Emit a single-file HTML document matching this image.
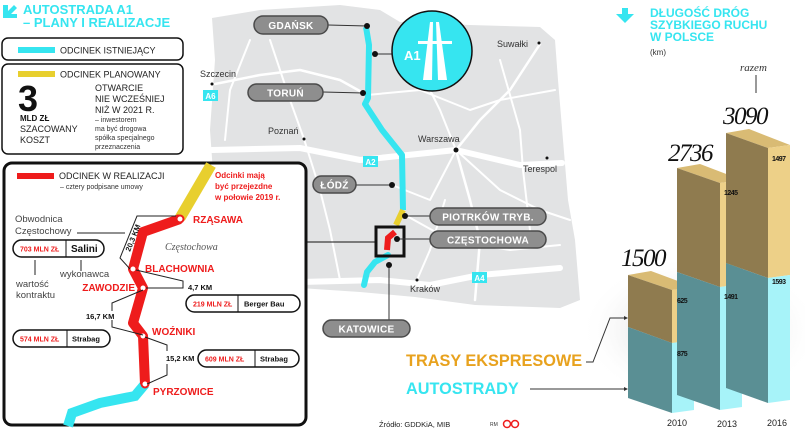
<!DOCTYPE html>
<html><head><meta charset="utf-8"><style>
html,body{margin:0;padding:0;background:#fff;}
svg{display:block;font-family:"Liberation Sans","DejaVu Sans",sans-serif;}
.pl{fill:#8e8e8e;stroke:#4a4a4a;stroke-width:1.5}
.pt{fill:#fff;font-weight:bold;font-size:10px;letter-spacing:0.3px}
.rd{fill:none;stroke:#fff;stroke-linecap:round;stroke-linejoin:round}
.cb{fill:#fff;stroke:#111;stroke-width:1.5}
.red{fill:#ee1c1c;font-weight:bold}
</style></head><body>
<svg width="805" height="442" viewBox="0 0 805 442" xmlns="http://www.w3.org/2000/svg">
<defs>
<radialGradient id="sh" cx="0.5" cy="0.5" r="0.5">
<stop offset="0" stop-color="#b8b8b8"/><stop offset="1" stop-color="#fff" stop-opacity="0"/>
</radialGradient>
</defs>
<!-- map -->
<polygon points="212,18 260,10 340,5 380,10 400,22 470,25 540,27 555,40 558,80 563,140 568,200 575,240 580,300 560,308 475,305 415,297 360,292 300,288 290,250 215,200 210,130 215,60" fill="#e2e3e4"/>
<g class="rd">
<path d="M212,150 L300,148 L360,160 L456,150 L520,165 L562,163" stroke-width="6"/>
<path d="M300,282 L380,280 L430,285 L480,275 L560,268" stroke-width="6"/>
<path d="M215,84 L260,75 L300,70 L340,80 L367,95" stroke-width="2.5"/>
<path d="M456,150 L480,120 L510,90 L540,44" stroke-width="2.5"/>
<path d="M456,150 L440,110 L420,70" stroke-width="2"/>
<path d="M456,150 L470,200 L480,240 L475,300" stroke-width="2.5"/>
<path d="M456,150 L500,190 L540,210 L570,220" stroke-width="2"/>
<path d="M304,139 L290,100 L270,40" stroke-width="2"/>
<path d="M304,139 L320,190 L330,230 L340,280" stroke-width="2"/>
<path d="M367,95 L420,90 L470,110 L500,100 L555,90" stroke-width="2"/>
<path d="M392,185 L430,200 L456,150" stroke-width="2"/>
<path d="M250,40 L230,90 L225,140" stroke-width="2"/>
<path d="M500,60 L520,130 L523,170 L530,230" stroke-width="2"/>
<path d="M405,215 L450,240 L510,250 L560,245" stroke-width="2"/>
<path d="M417,280 L430,250 L445,200" stroke-width="2"/>
</g>
<!-- badges -->
<rect x="203" y="90" width="15" height="11" fill="#36e5f0"/><text x="210.5" y="99" font-size="8" font-weight="bold" fill="#fff" text-anchor="middle">A6</text>
<rect x="363" y="156" width="15" height="11" fill="#36e5f0"/><text x="370.5" y="165" font-size="8" font-weight="bold" fill="#fff" text-anchor="middle">A2</text>
<rect x="472" y="272" width="15" height="11" fill="#36e5f0"/><text x="479.5" y="281" font-size="8" font-weight="bold" fill="#fff" text-anchor="middle">A4</text>
<!-- city labels -->
<g font-size="9" fill="#333">
<text x="200" y="77">Szczecin</text><circle cx="212" cy="84" r="1.5" fill="#111"/>
<text x="268" y="134">Poznań</text><circle cx="304" cy="139" r="1.5" fill="#111"/>
<text x="418" y="142">Warszawa</text><circle cx="456" cy="150" r="2.5" fill="#111"/>
<text x="497" y="47">Suwałki</text><circle cx="539" cy="43" r="1.5" fill="#111"/>
<text x="523" y="172">Terespol</text><circle cx="547" cy="158" r="1.5" fill="#111"/>
<text x="410" y="292">Kraków</text><circle cx="417" cy="280" r="1.5" fill="#111"/>
</g>
<!-- A1 route -->
<path d="M366,27 L369,45 L368,98 L365,104 L382,130 L402,155 L403,210" fill="none" stroke="#36e5f0" stroke-width="6" stroke-linejoin="round"/>
<path d="M403,210 L396,225" fill="none" stroke="#e8cf2e" stroke-width="6"/>
<path d="M388,255 L375,262 L367,272 L364,285" fill="none" stroke="#36e5f0" stroke-width="6" stroke-linecap="round"/>
<path d="M395,232 L388,238 L387,250" fill="none" stroke="#ee1c1c" stroke-width="6"/>
<rect x="376" y="227" width="28" height="29" fill="none" stroke="#111" stroke-width="3"/>
<line x1="307" y1="242" x2="376" y2="242" stroke="#111" stroke-width="1"/>
<!-- connectors -->
<g stroke="#333" stroke-width="1">
<line x1="328" y1="25" x2="367" y2="26"/><line x1="375" y1="54" x2="392" y2="54"/>
<line x1="323" y1="92" x2="363" y2="93"/><line x1="356" y1="185" x2="392" y2="185"/>
<line x1="405" y1="216" x2="430" y2="216"/><line x1="397" y1="239" x2="430" y2="239"/>
<line x1="389" y1="265" x2="389" y2="320"/>
</g>
<g fill="#111"><circle cx="367" cy="26" r="3"/><circle cx="375" cy="54" r="3"/><circle cx="363" cy="93" r="3"/><circle cx="392" cy="185" r="3"/><circle cx="405" cy="216" r="3"/><circle cx="397" cy="239" r="3"/><circle cx="389" cy="265" r="3"/></g>
<!-- pills -->
<rect class="pl" x="254" y="16" width="74" height="18" rx="9"/><text class="pt" x="291" y="29" text-anchor="middle">GDAŃSK</text>
<rect class="pl" x="248" y="84" width="75" height="17" rx="8.5"/><text class="pt" x="285.5" y="96.5" text-anchor="middle">TORUŃ</text>
<rect class="pl" x="313" y="176" width="43" height="17" rx="8.5"/><text class="pt" x="334.5" y="188.5" text-anchor="middle">ŁÓDŹ</text>
<rect class="pl" x="430" y="208" width="116" height="17" rx="8.5"/><text class="pt" x="488" y="220.5" text-anchor="middle">PIOTRKÓW TRYB.</text>
<rect class="pl" x="430" y="231" width="116" height="17" rx="8.5"/><text class="pt" x="488" y="243.5" text-anchor="middle">CZĘSTOCHOWA</text>
<rect class="pl" x="323" y="320" width="87" height="17" rx="8.5"/><text class="pt" x="366.5" y="332.5" text-anchor="middle">KATOWICE</text>
<!-- A1 circle -->
<circle cx="432" cy="51" r="40" fill="#36e5f0" stroke="#111" stroke-width="1.5"/>
<polygon points="430,22 433,22 432,80 423,80" fill="#fff"/>
<polygon points="436,22 439,22 447,80 438,80" fill="#fff"/>
<rect x="418" y="41" width="34" height="3" fill="#fff"/>
<text x="404" y="60" font-size="13" font-weight="bold" fill="#fff">A1</text>

<!-- top-left legend -->
<polygon points="3,5 8,5 8,11 14,5 17,8 11,14 17,14 17,18 3,18" fill="#36e5f0"/>
<g fill="#36e5f0" font-weight="bold" font-size="13"><text x="23" y="14">AUTOSTRADA A1</text><text x="23" y="27">– PLANY I REALIZACJE</text></g>
<rect x="2" y="38" width="181" height="22" rx="6" class="cb"/>
<rect x="18" y="47" width="37" height="6" fill="#36e5f0"/>
<text x="60" y="53.5" font-size="9" fill="#222">ODCINEK ISTNIEJĄCY</text>
<rect x="2" y="64" width="181" height="90" rx="6" class="cb"/>
<rect x="18" y="71" width="37" height="6" fill="#e8cf2e"/>
<text x="60" y="77.5" font-size="9" fill="#222">ODCINEK PLANOWANY</text>
<text x="18" y="111" font-size="36" font-weight="bold" fill="#111">3</text>
<text x="20" y="121" font-size="8" font-weight="bold" fill="#111">MLD ZŁ</text>
<g font-size="9" fill="#222"><text x="20" y="132">SZACOWANY</text><text x="20" y="143">KOSZT</text>
<text x="95" y="91">OTWARCIE</text><text x="95" y="102">NIE WCZEŚNIEJ</text><text x="95" y="113">NIŻ W 2021 R.</text></g>
<g font-size="7" fill="#333"><text x="95" y="122">– inwestorem</text><text x="95" y="131">ma być drogowa</text><text x="95" y="140">spółka specjalnego</text><text x="95" y="149">przeznaczenia</text></g>

<!-- inset -->
<rect x="4" y="163" width="302" height="262" rx="8" fill="#fff" stroke="#111" stroke-width="3"/>
<rect x="17" y="173" width="37" height="6" fill="#ee1c1c"/>
<text x="59" y="179" font-size="9" fill="#222">ODCINEK W REALIZACJI</text>
<text x="60" y="189" font-size="7" fill="#333">– cztery podpisane umowy</text>
<g class="red" font-size="8"><text x="215" y="178">Odcinki mają</text><text x="215" y="189">być przejezdne</text><text x="215" y="200">w połowie 2019 r.</text></g>
<path d="M211,165 L180,218" stroke="#e8cf2e" stroke-width="11" fill="none"/>
<path d="M145,384 L135,396 L100,403 L72,413 L68,426" stroke="#36e5f0" stroke-width="10" fill="none"/>
<path d="M180,219 L143,232 L133,269 L143,288 L133,323 L143,336 L145,384" stroke="#ee1c1c" stroke-width="10" fill="none" stroke-linejoin="round"/>
<g fill="#fff" stroke="#ee1c1c" stroke-width="2"><circle cx="180" cy="219" r="3.5"/><circle cx="133" cy="269" r="3.5"/><circle cx="143" cy="288" r="3.5"/><circle cx="143" cy="336" r="3.5"/><circle cx="145" cy="384" r="3.5"/></g>
<g class="red" font-size="10"><text x="193" y="223">RZĄSAWA</text><text x="145" y="272">BLACHOWNIA</text><text x="135" y="291" text-anchor="end">ZAWODZIE</text><text x="152" y="335">WOŹNIKI</text><text x="153" y="395">PYRZOWICE</text></g>
<text x="165" y="250" font-size="10" font-style="italic" fill="#555" font-family="Liberation Serif,serif">Częstochowa</text>
<g font-size="9.5" fill="#444"><text x="15" y="222">Obwodnica</text><text x="15" y="234">Częstochowy</text><text x="60" y="277">wykonawca</text><text x="16" y="287">wartość</text><text x="16" y="298">kontraktu</text></g>
<g stroke="#222" stroke-width="1" fill="none">
<path d="M77,233 L125,233"/><path d="M176,216 L137,216 L120,258 L130,269"/>
<path d="M35,275 L35,260 M81,271 L81,260"/>
<path d="M136,270 L183,281 L183,288 L146,288"/>
<path d="M143,290 L112,303 L112,311 M112,320 L112,327 L143,335"/>
<path d="M145,337 L167,345 L167,351 M167,364 L167,375 L147,384"/>
</g>
<text x="0" y="0" font-size="7.5" font-weight="bold" fill="#111" transform="translate(130,252) rotate(-68)">20,3 KM</text>
<g font-size="7.5" font-weight="bold" fill="#111"><text x="188" y="290">4,7 KM</text><text x="86" y="319">16,7 KM</text><text x="166" y="361">15,2 KM</text></g>
<g class="cb"><rect x="13" y="240" width="91" height="17" rx="8.5"/><rect x="186" y="295" width="114" height="17" rx="8.5"/><rect x="13" y="330" width="97" height="17" rx="8.5"/><rect x="198" y="350" width="101" height="17" rx="8.5"/></g>
<g stroke="#111" stroke-width="1"><line x1="66" y1="240" x2="66" y2="257"/><line x1="238" y1="295" x2="238" y2="312"/><line x1="67" y1="330" x2="67" y2="347"/><line x1="255" y1="350" x2="255" y2="367"/></g>
<g class="red" font-size="7"><text x="20" y="251.5">703 MLN ZŁ</text><text x="193" y="306.5">219 MLN ZŁ</text><text x="20" y="341.5">574 MLN ZŁ</text><text x="205" y="361.5">609 MLN ZŁ</text></g>
<g font-weight="bold" fill="#111"><text x="71" y="252" font-size="10">Salini</text><text x="244" y="306.5" font-size="7.5">Berger Bau</text><text x="72" y="341.5" font-size="7.5">Strabag</text><text x="260" y="361.5" font-size="7.5">Strabag</text></g>

<!-- chart -->
<ellipse cx="700" cy="330" rx="120" ry="75" fill="url(#sh)"/>
<polygon points="622,8 628,8 628,14 634,14 625,23 616,14 622,14" fill="#36e5f0"/>
<g fill="#36e5f0" font-weight="bold" font-size="12"><text x="650" y="17">DŁUGOŚĆ DRÓG</text><text x="650" y="29">SZYBKIEGO RUCHU</text><text x="650" y="41">W POLSCE</text></g>
<text x="650" y="55" font-size="8" fill="#333">(km)</text>
<text x="740" y="71" font-size="11" font-style="italic" fill="#333" font-family="Liberation Serif,serif">razem</text>
<line x1="756" y1="75" x2="756" y2="93" stroke="#333" stroke-width="1"/>
<g font-family="Liberation Serif,serif" font-style="italic" font-size="25" fill="#111" letter-spacing="-1.5"><text x="621" y="266">1500</text><text x="668" y="161">2736</text><text x="723" y="124">3090</text></g>
<!-- bar 2010 -->
<polygon points="628,275 651,271 694,287 672,290" fill="#d9bb74"/>
<polygon points="628,275 672,290 672,343 628,327" fill="#8f7b4f"/>
<polygon points="628,327 672,343 672,413 628,398" fill="#5a8f94"/>
<polygon points="672,290 694,287 694,340 672,343" fill="#edd088"/>
<polygon points="672,343 694,340 694,410 672,413" fill="#a7f3f9"/>
<!-- bar 2013 -->
<polygon points="677,168 700,164 742,180 720,183" fill="#d9bb74"/>
<polygon points="677,168 720,183 720,287 677,272" fill="#8f7b4f"/>
<polygon points="677,272 720,287 720,410 677,395" fill="#5a8f94"/>
<polygon points="720,183 742,180 742,284 720,287" fill="#edd088"/>
<polygon points="720,287 742,284 742,407 720,410" fill="#a7f3f9"/>
<!-- bar 2016 -->
<polygon points="726,133 749,129 790,145 768,148" fill="#d9bb74"/>
<polygon points="726,133 768,148 768,278 726,263" fill="#8f7b4f"/>
<polygon points="726,263 768,278 768,403 726,388" fill="#5a8f94"/>
<polygon points="768,148 790,145 790,275 768,278" fill="#edd088"/>
<polygon points="768,278 790,275 790,400 768,403" fill="#a7f3f9"/>
<g font-size="7" font-weight="bold" fill="#111" letter-spacing="-0.5"><text x="677" y="303">625</text><text x="677" y="356">875</text><text x="724" y="195">1245</text><text x="724" y="299">1491</text><text x="772" y="161">1497</text><text x="772" y="284">1593</text></g>
<g font-size="9" fill="#222"><text x="667" y="426">2010</text><text x="717" y="427">2013</text><text x="767" y="426">2016</text></g>
<g font-weight="bold" font-size="16.3"><text x="406" y="366" fill="#e8a21e">TRASY EKSPRESOWE</text><text x="406" y="394" fill="#36e5f0">AUTOSTRADY</text></g>
<g stroke="#333" stroke-width="1" fill="none"><path d="M586,362 L593,362 L610,318 L626,318"/><path d="M530,389 L626,389"/></g>
<g fill="#333"><polygon points="628,318 624,316 624,320"/><polygon points="628,389 624,387 624,391"/></g>
<text x="379" y="427" font-size="7.5" fill="#222">Źródło: GDDKiA, MIB</text>
<text x="490" y="426" font-size="5" fill="#333">RM</text>
<circle cx="507" cy="424" r="3.5" fill="none" stroke="#ee1c1c" stroke-width="1.5"/><circle cx="515" cy="424" r="3.5" fill="none" stroke="#ee1c1c" stroke-width="1.5"/>
</svg>
</body></html>
